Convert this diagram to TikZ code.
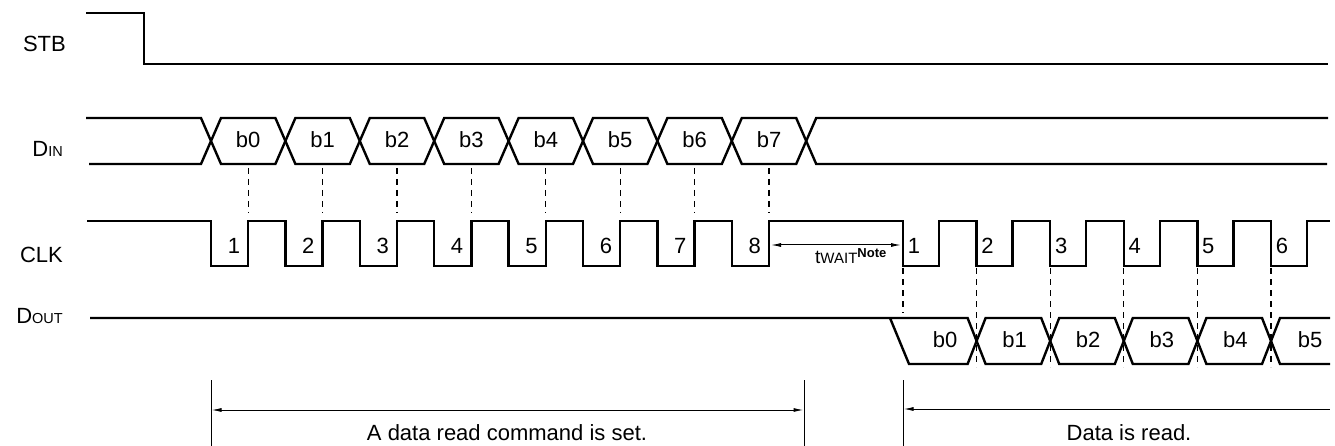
\documentclass[tikz,border=0pt]{standalone}
\usepackage{fontspec}
\setmainfont{Liberation Sans}
\usetikzlibrary{arrows.meta}

\begin{document}
\begin{tikzpicture}[x=1pt,y=-1pt,
  wave/.style={line width=2.4pt},
  guide/.style={line width=1.3pt,dash pattern=on 6pt off 5pt},
  dim/.style={line width=1pt},
  tip/.style={{Latex[length=10pt,width=4pt]}-{Latex[length=10pt,width=4pt]}},
  lbl/.style={font=\fontsize{22}{26}\selectfont,inner sep=0pt},
  sig/.style={lbl,anchor=base east}]
\useasboundingbox (0,0) rectangle (1335,446);

\node [sig] (stb) at (66,52) {STB};
\node [sig] (din) at (63,157) {D{\fontsize{14.5}{16}\selectfont IN}};
\node [sig] (clk) at (63,262) {CLK};
\node [sig] (dout) at (63,323) {D{\fontsize{14.5}{16}\selectfont OUT}};

\draw [wave] (86,13) -- (144,13) -- (144,64) -- (1328,64);

\draw [wave] (86,118) -- (201,118) -- (211,141) -- (201,164) -- (89,164);
\foreach \i in {0,...,7} {
  \draw [wave] (211+74.4*\i,141) -- (221+74.4*\i,118) -- (275.4+74.4*\i,118) -- (285.4+74.4*\i,141)
    -- (275.4+74.4*\i,164) -- (221+74.4*\i,164) -- cycle;
  \node [lbl] (bin\i) at (248.2+74.4*\i,140) {b\i};
  \draw [guide] (248.2+74.4*\i,168) -- ++(0,45);
}
\draw [wave] (1328,118) -- (816.2,118) -- (806.2,141) -- (816.2,164) -- (1327,164);

\draw [wave] (87,221) foreach \i in {0,...,7} { -- (211+74.4*\i,221) -- ++(0,45) -- ++(37.2,0) -- ++(0,-45) }
  foreach \j in {0,...,5} { -- (903+73.6*\j,221) -- ++(0,45) -- ++(36,0) -- ++(0,-45) } -- (1330,221);
\foreach \i in {1,...,8}
  \node [lbl,anchor=base east] (ka\i) at (165.8+74.4*\i,254) {\i};
\foreach \j in {1,...,6}
  \node [lbl,anchor=base west] (kb\j) at (834+73.6*\j,254) {\j};

\coordinate (w0) at (771,245);
\coordinate (w1) at (901,245);
\draw [dim,tip] (w0) -- (w1);
\node [anchor=base west,inner sep=0pt] (twait) at (815,264)
  {\fontsize{19}{21}\selectfont t\fontsize{15}{17}\selectfont WAIT\raisebox{6pt}{\fontsize{13}{15}\selectfont\bfseries Note}};

\draw [guide] (903,268) -- (903,313);
\draw [wave] (90,318) -- (967.6,318) -- (976.6,341) -- (967.6,364) -- (909,364) -- (890,318);
\node [lbl] (bout0) at (945,340) {b0};
\foreach \j in {1,...,4} {
  \draw [wave] (903+73.6*\j,341) -- (912+73.6*\j,318) -- (967.6+73.6*\j,318) -- (976.6+73.6*\j,341)
    -- (967.6+73.6*\j,364) -- (912+73.6*\j,364) -- cycle;
  \node [lbl] (bout\j) at (941+73.6*\j,340) {b\j};
}
\draw [wave] (1330,318) -- (1280,318) -- (1271,341) -- (1280,364) -- (1330,364);
\node [lbl] (bout5) at (1310,340) {b5};
\foreach \j in {1,...,5}
  \draw [guide] (903+73.6*\j,268) -- ++(0,99);

\foreach \x/\n in {211/a,804/b,903/c} {
  \coordinate (\n0) at (\x,380);
  \coordinate (\n1) at (\x,446);
  \draw [dim] (\n0) -- (\n1);
}
\coordinate (cmdL) at (211.5,410);
\coordinate (cmdR) at (803.5,410);
\coordinate (rdL) at (903.5,409);
\coordinate (rdR) at (1330,409);
\draw [dim,tip] (cmdL) -- (cmdR);
\draw [dim,{Latex[length=10pt,width=4pt]}-] (rdL) -- (rdR);
\node [lbl] (cmd) at (507,433) {A data read command is set.};
\node [lbl] (rd) at (1129,433) {Data is read.};
\end{tikzpicture}
\end{document}
